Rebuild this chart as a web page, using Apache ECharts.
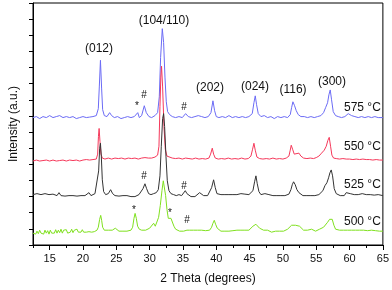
<!DOCTYPE html>
<html><head><meta charset="utf-8">
<script src="https://cdn.jsdelivr.net/npm/echarts@6/dist/echarts.min.js"></script>
<style>html,body{margin:0;padding:0;background:#fff}#c{width:392px;height:290px}</style>
</head><body><div id="c"></div>
<script>
// XRD patterns, [2theta, intensity (a.u., offset)]
const s575 = [[12.5,129],[13,130],[13.5,128],[14,130],[14.5,129],[15,131],[15.5,129],[16,130],[16.5,131],[17,129],[17.5,130],[18,129],[18.5,130],[19,128],[19.5,129],[20,130],[20.5,129],[21,129.5],[21.5,130],[22,131],[22.3,138],[22.45,160],[22.62,187],[22.8,158],[22.95,137],[23.2,131],[23.6,130],[24.0,134],[24.3,131],[24.7,129],[25.2,130],[25.7,128],[26.2,129],[26.7,130],[27.2,129],[27.7,130],[28.0,130],[28.22,134],[28.45,129],[28.8,131],[29.2,141],[29.5,134],[29.9,130],[30.3,129],[30.8,131],[31.2,134],[31.45,150],[31.65,190],[31.9,219],[32.1,205],[32.3,170],[32.5,145],[32.7,135],[33.0,132],[33.4,130],[33.9,129],[34.4,130],[34.9,129],[35.4,133],[35.8,130],[36.3,129],[36.8,130],[37.3,131],[37.8,130],[38.3,129],[38.8,130],[39.2,134],[39.5,146],[39.75,136],[40.0,130],[40.4,129],[40.9,130],[41.4,129],[41.9,131],[42.4,129],[42.9,130],[43.4,129],[43.9,130],[44.4,129],[44.9,130],[45.4,133],[45.65,144],[45.85,151],[46.05,142],[46.3,133],[46.7,130],[47.2,131],[47.7,129],[48.2,130],[48.7,128],[49.2,130],[49.7,129],[50.2,130],[50.7,129],[51.1,132],[51.3,139],[51.5,145],[51.75,141],[52.0,136],[52.3,132],[52.7,130],[53.2,130],[53.7,129],[54.2,130],[54.7,129],[55.2,130],[55.7,131],[56.1,134],[56.4,139],[56.7,144],[56.9,152],[57.1,157],[57.3,147],[57.55,135],[57.9,131],[58.3,130],[58.8,129],[59.3,130],[59.8,133],[60.3,131],[60.8,130],[61.3,129],[61.8,130],[62.3,129],[62.8,130],[63.3,129],[63.8,130],[64.3,129],[65,129]];
const s550 = [[12.5,85],[13,86],[13.5,85],[14,85.5],[14.5,86],[15,85],[15.5,86],[16,85],[16.5,85.5],[17,86],[17.5,85],[18,86],[18.5,85.5],[19,86],[19.5,85],[20,86],[20.5,86.5],[21,86],[21.5,86.5],[22,87],[22.2,92],[22.32,110],[22.42,118],[22.55,105],[22.7,92],[22.9,88],[23.3,87],[23.8,88],[24.3,87],[24.8,88],[25.3,87.5],[25.8,88],[26.3,87],[26.8,88],[27.3,87.5],[27.8,88],[28.3,87],[28.8,88],[29.3,88.5],[29.8,88],[30.3,88],[30.8,89],[31.2,91],[31.4,100],[31.55,140],[31.68,170],[31.79,181],[31.95,160],[32.15,120],[32.35,97],[32.6,90],[32.9,88.5],[33.4,88],[33.9,87.5],[34.4,88],[34.9,87],[35.4,88],[35.9,87.5],[36.4,87],[36.9,88],[37.4,87],[37.9,87.5],[38.4,87],[38.9,88],[39.15,92],[39.4,98],[39.6,92],[39.85,88],[40.3,87],[40.8,87.5],[41.3,87],[41.8,88],[42.3,87],[42.8,87.5],[43.3,87],[43.8,88],[44.3,87],[44.8,87.5],[45.2,90],[45.45,97],[45.65,103],[45.85,96],[46.1,89],[46.5,87.5],[47.0,87],[47.5,87.5],[48.0,87],[48.5,88],[49.0,87],[49.5,87.5],[50.0,87],[50.5,88],[50.9,90],[51.1,96],[51.25,101],[51.45,97],[51.7,92],[52.0,91],[52.4,93],[52.7,90],[53.1,88],[53.6,87.5],[54.1,88],[54.6,87.5],[55.0,88.5],[55.4,90],[55.8,93],[56.2,96],[56.5,100],[56.75,106],[56.95,109],[57.15,100],[57.35,91],[57.6,88],[58.0,87.5],[58.5,87],[59.0,87.5],[59.5,87],[60.0,87],[60.5,86.5],[61.0,87],[61.5,86.5],[62.0,87],[62.5,86.5],[63.0,86.5],[63.5,86],[64.0,86.5],[64.5,86],[65,86]];
const s525 = [[12.5,51],[12.8,49],[13.1,52],[13.4,50],[13.7,51],[14.0,49.5],[14.3,52],[14.6,50],[14.9,51],[15.2,49],[15.5,51.5],[15.8,53],[16.1,50],[16.4,53],[16.7,50],[17.0,51],[17.3,49.5],[17.6,51],[17.9,50],[18.2,52],[18.5,50],[18.8,51],[19.1,49.5],[19.4,51],[19.7,50],[20.0,52],[20.3,50],[20.6,51],[20.9,53],[21.2,50],[21.5,51],[21.8,52],[22.1,53],[22.35,75],[22.5,98],[22.62,103],[22.75,90],[22.9,66],[23.1,54],[23.4,51],[23.8,52],[24.15,56],[24.45,52],[24.8,50],[25.1,51],[25.4,49.5],[25.7,51],[26.0,50],[26.3,51.5],[26.6,50],[26.9,51],[27.2,49],[27.5,51],[27.8,49],[28.1,50],[28.4,51],[28.7,53],[29.0,57],[29.3,62],[29.55,57],[29.85,52],[30.2,51],[30.6,52],[31.0,53],[31.3,56],[31.55,70],[31.75,100],[31.95,128],[32.1,133],[32.25,120],[32.45,90],[32.65,65],[32.9,55],[33.2,52],[33.6,51],[34.0,50],[34.4,51],[34.8,50],[35.1,52],[35.35,55],[35.6,52],[35.9,50],[36.2,49],[36.5,50],[36.8,49],[37.1,51],[37.5,53],[37.8,51],[38.1,50],[38.4,51],[38.7,50],[39.0,52],[39.3,58],[39.6,66],[39.85,58],[40.1,52],[40.4,50],[40.7,51],[41.0,50],[41.3,51],[41.6,50],[41.9,51],[42.2,50],[42.5,51],[42.8,50.5],[43.1,51],[43.4,50],[43.7,52],[44.0,50],[44.3,51.5],[44.6,50],[44.9,51],[45.2,51],[45.5,55],[45.75,64],[45.95,70],[46.15,62],[46.4,54],[46.7,51],[47.0,50],[47.3,52],[47.6,50],[47.9,51],[48.2,53],[48.5,50],[48.8,51],[49.1,50],[49.4,51],[49.7,50],[50.0,51],[50.3,50],[50.6,51],[50.9,51.5],[51.2,56],[51.4,61],[51.6,64],[51.85,61],[52.1,56],[52.4,53],[52.7,51],[53.0,50],[53.3,51],[53.6,50],[53.9,51],[54.2,50],[54.5,51],[54.8,50],[55.1,51],[55.4,51],[55.7,52],[56.0,55],[56.3,60],[56.6,63],[56.85,68],[57.05,73],[57.25,76],[57.45,70],[57.7,57],[58.0,52],[58.3,51],[58.6,50],[58.9,51],[59.2,50],[59.5,53],[59.8,51],[60.1,52],[60.4,50],[60.7,51],[61.0,50],[61.3,51],[61.6,50],[61.9,52],[62.2,50],[62.5,51],[62.8,50],[63.1,51],[63.4,50],[63.7,50.5],[64.0,50],[64.3,51],[64.6,50],[65,50]];
const s500 = [[12.5,12],[12.7,14],[12.9,11],[13.1,14],[13.3,11.5],[13.5,15],[13.7,12],[13.9,14],[14.1,11],[14.3,15],[14.5,12],[14.7,14.5],[14.9,11],[15.1,15],[15.3,12],[15.5,14],[15.7,12],[15.9,15.5],[16.1,12],[16.3,15],[16.5,12.5],[16.7,16],[16.9,12],[17.1,15],[17.3,13],[17.5,15.5],[17.7,12],[17.9,14],[18.1,13],[18.3,16],[18.5,12.5],[18.7,15],[18.9,13],[19.1,16],[19.3,13],[19.5,15],[19.7,13],[19.9,15.5],[20.1,13],[20.3,14],[20.5,13],[20.7,15],[20.9,13.5],[21.1,15],[21.3,13],[21.5,14.5],[21.7,13.5],[21.9,15],[22.1,15],[22.3,18],[22.5,26],[22.66,30],[22.8,25],[22.95,18],[23.2,15],[23.5,14],[23.8,15],[24.1,14],[24.4,15],[24.65,16],[24.85,17],[25.1,15],[25.4,14],[25.7,15],[26.0,14],[26.3,15],[26.6,14],[26.9,15],[27.2,15],[27.45,18],[27.65,27],[27.82,32],[28.0,27],[28.2,19],[28.45,16],[28.8,15],[29.1,14],[29.4,15],[29.7,16],[30.0,17],[30.3,19],[30.6,22],[30.85,19],[31.1,21],[31.35,28],[31.6,40],[31.85,55],[32.05,65],[32.2,63],[32.4,50],[32.6,36],[32.8,27],[33.0,25],[33.2,27],[33.4,25],[33.65,19],[33.9,16],[34.2,15],[34.5,14],[34.8,15],[35.1,14],[35.4,14.5],[35.6,15],[35.8,17],[36.0,15],[36.3,14],[36.6,15],[36.9,14],[37.2,15],[37.5,14],[37.8,15],[38.1,14],[38.4,14.5],[38.7,14],[39.0,15],[39.3,18],[39.5,22],[39.7,25],[39.9,21],[40.15,17],[40.4,15],[40.7,14],[41.0,15],[41.3,14],[41.6,15],[41.9,14],[42.2,15],[42.5,14.5],[42.8,14],[43.1,15],[43.4,14],[43.7,15],[44.0,14],[44.3,15],[44.6,16],[44.9,15],[45.2,17],[45.5,19],[45.75,20],[45.95,21],[46.2,19],[46.5,17],[46.8,16],[47.1,15],[47.4,14],[47.7,15],[48.0,14],[48.3,13],[48.6,15],[48.9,14],[49.2,15],[49.5,14],[49.8,15],[50.1,14],[50.4,15],[50.7,16],[51.0,17],[51.3,20],[51.6,22],[51.9,20],[52.2,21],[52.5,19],[52.8,17],[53.1,15],[53.4,13],[53.7,15],[54.0,17],[54.3,16],[54.6,15],[54.9,14],[55.2,15],[55.5,16],[55.8,17],[56.1,18],[56.4,19],[56.7,23],[57.0,26],[57.2,27],[57.4,26],[57.65,20],[57.9,16],[58.2,14],[58.5,15],[58.8,14],[59.1,15],[59.4,14],[59.7,15],[60.0,14],[60.3,15],[60.6,14],[60.9,15],[61.2,14],[61.5,15],[61.8,14],[62.1,15],[62.4,14],[62.7,14.5],[63.0,14],[63.3,15],[63.6,14],[63.9,14.5],[64.2,14],[64.5,14],[65,14]];

const seriesNames = ['575 °C','550 °C','525 °C','500 °C'];
const seriesColors = ['#6b6bf5','#f5385a','#333333','#7fe01e'];
const xMajorTicks = [15,20,25,30,35,40,45,50,55,60,65];
const xMinorTicks = [12.5,17.5,22.5,27.5,32.5,37.5,42.5,47.5,52.5,57.5,62.5];
const peakLabels = ['(012)','(104/110)','(202)','(024)','(116)','(300)'];
const phaseMarks = ['*','#','#','#','#','*','*','#'];

const F = 'Liberation Sans, Arial, sans-serif';
const chart = echarts.init(document.getElementById('c'));
const txt = (s, x, y, size, align) => ({type:'text', x:x, y:y, style:{text:s, font: size+'px '+F, fill:'#111', align:align||'center', verticalAlign:'middle'}});
const peakPos = [[99,49],[164,21],[210,88],[255,87],[293,90],[332,82]];
const tempPos = [[344,108],[344,147],[344,185],[344,222]];
const markPos = [[137,106],[144,95],[184,107],[144,176],[184,186],[134,210],[170,213],[187,220]];
const graphics = [];
peakLabels.forEach((s,i)=>graphics.push(txt(s, peakPos[i][0], peakPos[i][1], 12)));
seriesNames.forEach((s,i)=>graphics.push(txt(s, tempPos[i][0], tempPos[i][1], 12, 'left')));
phaseMarks.forEach((s,i)=>graphics.push(txt(s, markPos[i][0], markPos[i][1], 10)));

const data = [s575, s550, s525, s500];
chart.setOption({
  animation:false,
  grid:{left:31, right:8, top:3, bottom:42, show:true, borderColor:'#000', borderWidth:1},
  xAxis:[{
    type:'value', min:12.5, max:65,
    name:'2 Theta (degrees)', nameLocation:'middle', nameGap:28,
    nameTextStyle:{fontFamily:F, fontSize:12, color:'#111'},
    axisLine:{lineStyle:{color:'#000'}},
    axisTick:{customValues:xMajorTicks, length:5, lineStyle:{color:'#000'}},
    axisLabel:{customValues:xMajorTicks, fontFamily:F, fontSize:11, color:'#111', margin:8},
    splitLine:{show:false}
  },{
    type:'value', min:12.5, max:65, position:'bottom',
    axisLine:{show:false},
    axisTick:{customValues:xMinorTicks, length:3, lineStyle:{color:'#000'}},
    axisLabel:{show:false}, splitLine:{show:false}
  }],
  yAxis:{
    type:'value', min:0, max:245, interval:245/15,
    name:'Intensity (a.u.)', nameLocation:'middle', nameGap:13,
    nameTextStyle:{fontFamily:F, fontSize:12, color:'#111'},
    axisLine:{lineStyle:{color:'#000'}},
    axisTick:{length:4, lineStyle:{color:'#000'}},
    axisLabel:{show:false}, splitLine:{show:false}
  },
  series:data.map((d,i)=>({
    name:seriesNames[i], type:'line', data:d, showSymbol:false, symbol:'none',
    lineStyle:{color:seriesColors[i], width:1}, z:2+i
  })),
  graphic:graphics
});
</script></body></html>
